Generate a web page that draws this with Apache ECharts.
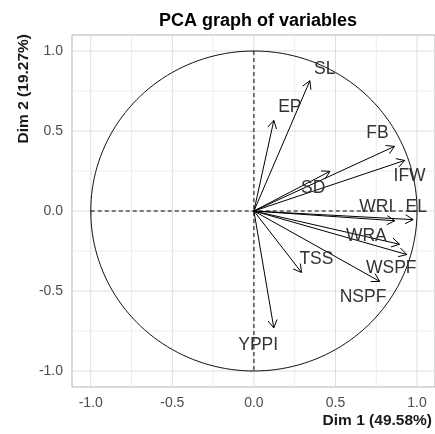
<!DOCTYPE html>
<html>
<head>
<meta charset="utf-8">
<script src="https://cdn.jsdelivr.net/npm/echarts@6/dist/echarts.min.js"></script>
<style>
  html, body { margin: 0; padding: 0; background: #fff; }
  #main { width: 435px; height: 434px; }
</style>
</head>
<body>
<div id="main"></div>
<script>
// ==================== 数据 ====================
const varNames = ['SL', 'EP', 'FB', 'IFW', 'SD', 'WRI', 'EL', 'WRA', 'WSPF', 'NSPF', 'TSS', 'YPPI'];
const dim1 = [0.343, 0.122, 0.862, 0.924, 0.466, 0.864, 0.976, 0.893, 0.937, 0.771, 0.292, 0.122];
const dim2 = [0.814, 0.566, 0.404, 0.316, 0.248, -0.061, -0.054, -0.208, -0.272, -0.440, -0.384, -0.731];
// 标签位置（数据坐标）
const labelX = [0.434, 0.220, 0.757, 0.954, 0.363, 0.750, 0.995, 0.689, 0.842, 0.669, 0.383, 0.026];
const labelY = [0.885, 0.650, 0.487, 0.216, 0.143, 0.025, 0.025, -0.159, -0.356, -0.540, -0.300, -0.836];
const majorTicks = [-1, -0.5, 0, 0.5, 1];
const minorTicks = [-0.75, -0.25, 0.25, 0.75];

const FONT = '"Liberation Sans", Arial, sans-serif';

(function() {
  const chart = echarts.init(document.getElementById('main'));

  const fmt = v => v.toFixed(1);

  // 网格线（主/次）
  function renderGrid(params, api) {
    const cs = params.coordSys;
    const v = api.value(0);
    const major = api.value(1) === 1;
    const px = api.coord([v, 0])[0];
    const py = api.coord([0, v])[1];
    const style = { stroke: major ? '#dedede' : '#ececec', lineWidth: 1 };
    return {
      type: 'group',
      children: [
        { type: 'line', shape: { x1: px, y1: cs.y, x2: px, y2: cs.y + cs.height }, style: style },
        { type: 'line', shape: { x1: cs.x, y1: py, x2: cs.x + cs.width, y2: py }, style: style }
      ]
    };
  }

  // 单位圆 + 虚线十字
  function renderCircle(params, api) {
    const pts = [];
    for (let a = 0; a <= 360; a += 2) {
      const t = a * Math.PI / 180;
      pts.push(api.coord([Math.cos(t), Math.sin(t)]));
    }
    const l = api.coord([-1, 0]), r = api.coord([1.02, 0]);
    const t = api.coord([0, 1]), b = api.coord([0, -1]);
    const dash = { stroke: '#000', lineWidth: 1, lineDash: [4, 3] };
    return {
      type: 'group',
      children: [
        { type: 'polyline', shape: { points: pts }, style: { stroke: '#111', lineWidth: 1, fill: null } },
        { type: 'line', shape: { x1: l[0], y1: l[1], x2: r[0], y2: r[1] }, style: dash },
        { type: 'line', shape: { x1: t[0], y1: t[1], x2: b[0], y2: b[1] }, style: dash }
      ]
    };
  }

  // 箭头
  function renderArrow(params, api) {
    const o = api.coord([0, 0]);
    const p = api.coord([api.value(0), api.value(1)]);
    const ang = Math.atan2(p[1] - o[1], p[0] - o[0]);
    const len = 9, spread = Math.PI / 6;
    const h1 = [p[0] - len * Math.cos(ang - spread), p[1] - len * Math.sin(ang - spread)];
    const h2 = [p[0] - len * Math.cos(ang + spread), p[1] - len * Math.sin(ang + spread)];
    return {
      type: 'group',
      children: [
        { type: 'line', shape: { x1: o[0], y1: o[1], x2: p[0], y2: p[1] }, style: { stroke: '#000', lineWidth: 1 } },
        { type: 'polyline', shape: { points: [h1, p, h2] }, style: { stroke: '#000', lineWidth: 1, fill: null } }
      ]
    };
  }

  // 变量标签
  function renderLabel(params, api) {
    const c = api.coord([api.value(0), api.value(1)]);
    return {
      type: 'text',
      x: c[0],
      y: c[1],
      style: {
        text: varNames[params.dataIndex],
        fill: '#333',
        fontSize: 17.5,
        fontFamily: FONT,
        align: 'center',
        verticalAlign: 'middle'
      }
    };
  }

  const axisCommon = {
    type: 'value',
    axisLine: { show: false },
    splitLine: { show: false },
    axisTick: { show: true, customValues: majorTicks, length: 4, lineStyle: { color: '#b3b3b3' } },
    axisLabel: { customValues: majorTicks, formatter: fmt, color: '#4d4d4d', fontSize: 14, fontFamily: FONT, margin: 9 }
  };

  chart.setOption({
    animation: false,
    title: {
      text: 'PCA graph of variables',
      left: 253,
      top: 7,
      textAlign: 'center',
      textStyle: { fontSize: 18, fontWeight: 'bold', color: '#000', fontFamily: FONT }
    },
    grid: {
      left: 72, right: 0, top: 35, bottom: 47,
      show: true, borderColor: '#b3b3b3', borderWidth: 1, backgroundColor: '#fff'
    },
    xAxis: Object.assign({}, axisCommon, { min: -1.115, max: 1.11 }),
    yAxis: Object.assign({}, axisCommon, { min: -1.1, max: 1.1 }),
    graphic: [
      {
        type: 'text', x: 432, y: 421,
        style: { text: 'Dim 1 (49.58%)', fontSize: 15.5, fontWeight: 'bold', fontFamily: FONT, fill: '#1a1a1a', align: 'right', verticalAlign: 'middle' }
      },
      {
        type: 'text', x: 24, y: 34, rotation: Math.PI / 2,
        style: { text: 'Dim 2 (19.27%)', fontSize: 15.5, fontWeight: 'bold', fontFamily: FONT, fill: '#1a1a1a', align: 'right', verticalAlign: 'middle' }
      }
    ],
    series: [
      {
        type: 'custom', z: 1, silent: true,
        renderItem: renderGrid,
        data: majorTicks.map(v => [v, 1]).concat(minorTicks.map(v => [v, 0]))
      },
      {
        type: 'custom', z: 2, silent: true,
        renderItem: renderCircle,
        data: [[0, 0]]
      },
      {
        type: 'custom', z: 3, silent: true,
        renderItem: renderArrow,
        data: dim1.map((x, i) => [x, dim2[i]])
      },
      {
        type: 'custom', z: 4, silent: true,
        renderItem: renderLabel,
        data: labelX.map((x, i) => [x, labelY[i]])
      }
    ]
  });
})();
</script>
</body>
</html>
